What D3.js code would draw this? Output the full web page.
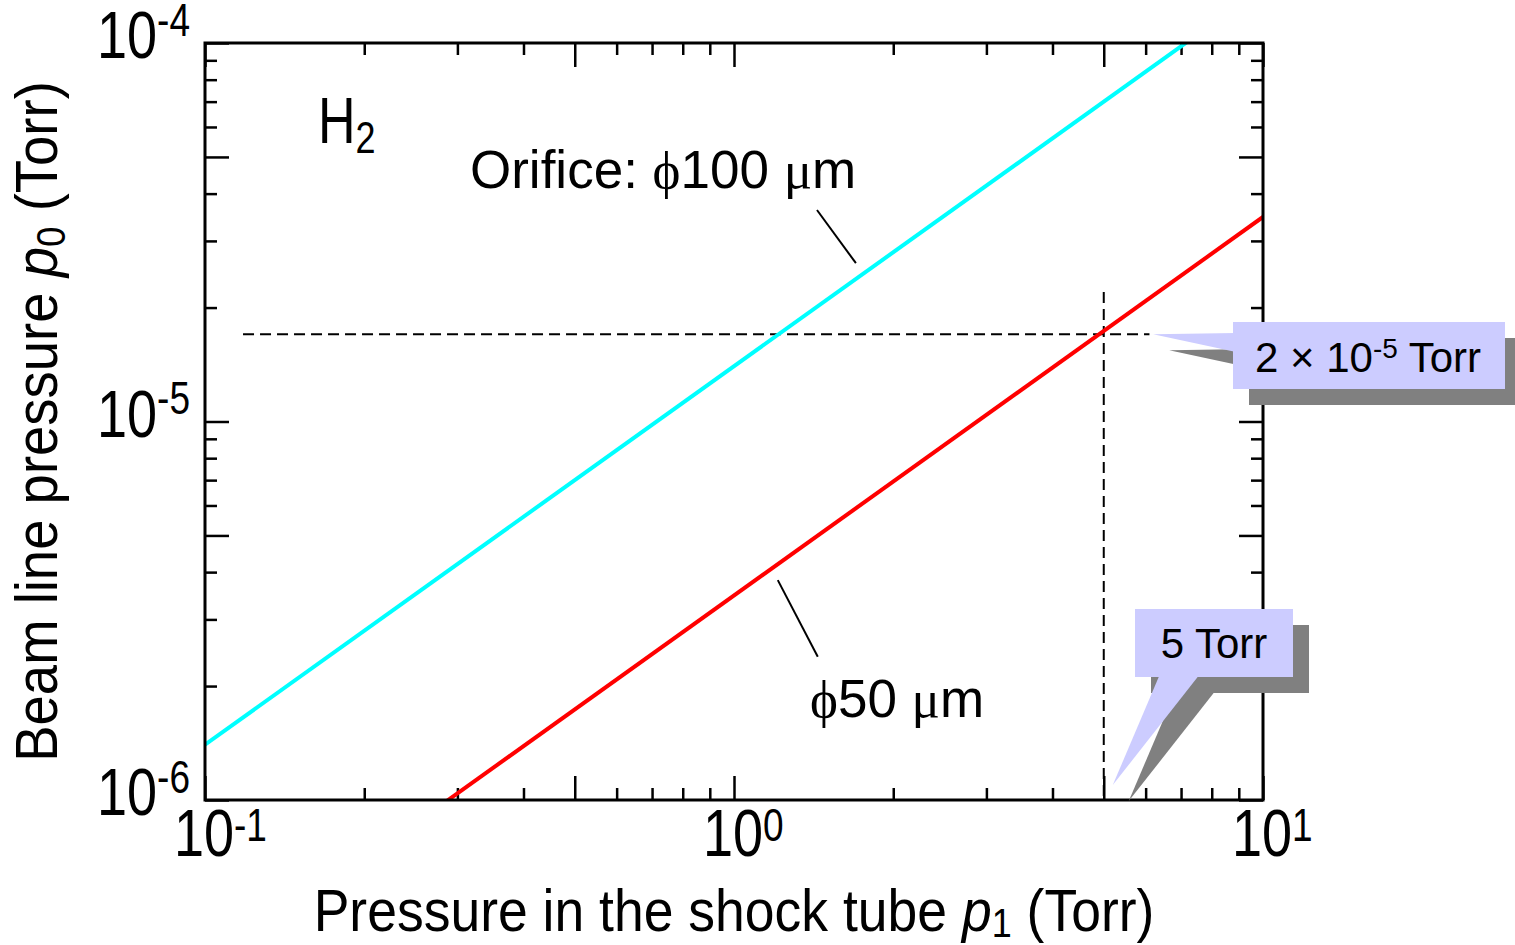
<!DOCTYPE html>
<html>
<head>
<meta charset="utf-8">
<script src="https://cdn.jsdelivr.net/npm/d3@7"></script>
<style>
  html, body { margin: 0; padding: 0; background: #fff; }
  svg { display: block; font-family: "Liberation Sans", Arial, sans-serif; }
</style>
</head>
<body>
<svg id="chart" width="1515" height="945"></svg>
<script>
// ---- data ----
const p1Range = [0.1, 10];                 // x domain, Torr
const p0Range = [1e-6, 1e-4];              // y domain, Torr
const p1Line = [0.1, 10];                  // x values for both curves
const p0Orifice100 = [1.4e-6, 1.4e-4];     // phi 100 um (cyan)
const p0Orifice50 = [3.47e-7, 3.47e-5];    // phi 50 um (red)
const xTickExps = [-1, 0, 1];
const yTickExps = [-6, -5, -4];
const refP0 = 1.7e-5;                      // horizontal dashed line
const refP0Span = [0.118, 6.1];
const refP1 = 5;                           // vertical dashed line
const refP1Top = 2.2e-5;

// Plot box
const plotL = 205, plotR = 1263, plotT = 43, plotB = 800;
const STRETCH = 1.23;  // graph text looks vertically stretched

const svg = d3.select('#chart');
const x = d3.scaleLog().domain(p1Range).range([plotL, plotR]);
const y = d3.scaleLog().domain(p0Range).range([plotB, plotT]);

// ticks: 1-9 in each decade
const allX = [], allY = [];
for (let e = -1; e < 1; e++) for (let m = 1; m < 10; m++) allX.push(m * Math.pow(10, e));
allX.push(10);
for (let e = -6; e < -4; e++) for (let m = 1; m < 10; m++) allY.push(m * Math.pow(10, e));
allY.push(1e-4);
const isLong = v => {
  const m = Math.round(v / Math.pow(10, Math.floor(Math.log10(v) + 1e-9)));
  return m === 1 || m === 5;
};

function addAxis(axisFn, scale, vals, size, transform) {
  const g = svg.append('g')
    .attr('transform', transform)
    .call(axisFn(scale).tickValues(vals).tickSize(-size).tickSizeOuter(0).tickFormat(''));
  g.select('.domain').remove();
  g.selectAll('line').attr('stroke', '#000').attr('stroke-width', 2.5);
}

[[true, 24], [false, 12]].forEach(([long, size]) => {
  const xv = allX.filter(v => isLong(v) === long);
  const yv = allY.filter(v => isLong(v) === long);
  addAxis(d3.axisBottom, x, xv, size, `translate(0,${plotB})`);
  addAxis(d3.axisTop, x, xv, size, `translate(0,${plotT})`);
  addAxis(d3.axisLeft, y, yv, size, `translate(${plotL},0)`);
  addAxis(d3.axisRight, y, yv, size, `translate(${plotR},0)`);
});

// Clip for curves
svg.append('clipPath').attr('id', 'plotClip')
  .append('rect').attr('x', plotL).attr('y', plotT)
  .attr('width', plotR - plotL).attr('height', plotB - plotT);

const line = d3.line().x(d => x(d[0])).y(d => y(d[1]));

// Dashed guide lines
const dashed = svg.append('g')
  .attr('stroke', '#000').attr('stroke-width', 2).attr('stroke-dasharray', '11,6').attr('fill', 'none');
dashed.append('path').attr('d', line(refP0Span.map(v => [v, refP0])));
dashed.append('path').attr('d', line([[refP1, refP1Top], [refP1, p0Range[0]]]));

// Curves
const curves = svg.append('g').attr('clip-path', 'url(#plotClip)').attr('fill', 'none').attr('stroke-width', 4);
curves.append('path').attr('stroke', '#00ffff')
  .attr('d', line(p1Line.map((v, i) => [v, p0Orifice100[i]])));
curves.append('path').attr('stroke', '#ff0000')
  .attr('d', line(p1Line.map((v, i) => [v, p0Orifice50[i]])));

// Frame
svg.append('rect')
  .attr('x', plotL).attr('y', plotT).attr('width', plotR - plotL).attr('height', plotB - plotT)
  .attr('fill', 'none').attr('stroke', '#000').attr('stroke-width', 3);

// Tick labels (10^n)
function powLabel(px, py, exp, anchor, rise) {
  const t = svg.append('text')
    .attr('transform', `translate(${px},${py}) scale(1,${STRETCH})`)
    .attr('text-anchor', anchor)
    .style('font-size', '54px');
  t.append('tspan').text('10');
  t.append('tspan').attr('dy', -rise).style('font-size', '37px').text(exp);
}
xTickExps.forEach(e => powLabel(x(Math.pow(10, e)) - 31, 856, String(e), 'start', 12.5));
yTickExps.forEach(e => powLabel(plotL - 15, y(Math.pow(10, e)) + 15, String(e), 'end', 18));

// Axis titles
const xt = svg.append('text')
  .attr('transform', `translate(${(plotL + plotR) / 2},931) scale(1,1.12)`)
  .attr('text-anchor', 'middle').style('font-size', '53.5px');
xt.append('tspan').text('Pressure in the shock tube ');
xt.append('tspan').style('font-style', 'italic').text('p');
xt.append('tspan').attr('dy', 5).style('font-size', '36px').text('1');
xt.append('tspan').attr('dy', -5).text(' (Torr)');

const yt = svg.append('text')
  .attr('transform', `translate(57,${(plotT + plotB) / 2}) rotate(-90) scale(1,1.1)`)
  .attr('text-anchor', 'middle').style('font-size', '54.5px');
yt.append('tspan').text('Beam line pressure ');
yt.append('tspan').style('font-style', 'italic').text('p');
yt.append('tspan').attr('dy', 7).style('font-size', '37px').text('0');
yt.append('tspan').attr('dy', -7).text(' (Torr)');

// H2 label
const h2 = svg.append('text')
  .attr('transform', `translate(318,143) scale(1,${STRETCH})`)
  .style('font-size', '52px');
h2.append('tspan').text('H');
h2.append('tspan').attr('dy', 8).style('font-size', '36px').text('2');

// Orifice annotations
const greek = '"Liberation Serif", "DejaVu Serif", serif';
const o1 = svg.append('text').attr('x', 470).attr('y', 188).style('font-size', '53px');
o1.append('tspan').text('Orifice: ');
o1.append('tspan').style('font-family', greek).text('ϕ');
o1.append('tspan').text('100 ');
o1.append('tspan').style('font-family', greek).text('μ');
o1.append('tspan').text('m');

const o2 = svg.append('text').attr('x', 810).attr('y', 717).style('font-size', '53px');
o2.append('tspan').style('font-family', greek).text('ϕ');
o2.append('tspan').text('50 ');
o2.append('tspan').style('font-family', greek).text('μ');
o2.append('tspan').text('m');

const leaders = [
  [[1.435, 3.62e-5], [1.70, 2.62e-5]],
  [[1.21, 3.81e-6], [1.44, 2.39e-6]]
];
leaders.forEach(l => svg.append('path').attr('d', line(l))
  .attr('stroke', '#000').attr('stroke-width', 2).attr('fill', 'none'));

// Callouts (box + pointer, with drop shadow)
function callout(box, tip, base, textFn) {
  const sh = 16;
  const poly = (dx, dy) => [[tip[0] + dx, tip[1] + dy], [base[0][0] + dx, base[0][1] + dy], [base[1][0] + dx, base[1][1] + dy]];
  const g = svg.append('g');
  g.append('rect').attr('x', box.x + sh).attr('y', box.y + sh).attr('width', box.w).attr('height', box.h).attr('fill', '#808080');
  g.append('polygon').attr('points', poly(sh, sh).join(' ')).attr('fill', '#808080');
  g.append('polygon').attr('points', poly(0, 0).join(' ')).attr('fill', '#ccccff');
  g.append('rect').attr('x', box.x).attr('y', box.y).attr('width', box.w).attr('height', box.h).attr('fill', '#ccccff');
  textFn(g);
}

const tip1 = [x(6.2), y(refP0)];
callout({ x: 1233, y: 322, w: 272, h: 67 }, tip1, [[1236, 333], [1236, 352]], g => {
  const t = g.append('text').attr('x', 1368).attr('y', 372).attr('text-anchor', 'middle').style('font-size', '42px');
  t.append('tspan').text('2 × 10');
  t.append('tspan').attr('dy', -14).style('font-size', '28px').text('-5');
  t.append('tspan').attr('dy', 14).text(' Torr');
});

const tip2 = [x(5.2), y(1.095e-6)];
callout({ x: 1135, y: 609, w: 158, h: 68 }, tip2, [[1160, 674], [1200, 674]], g => {
  g.append('text').attr('x', 1214).attr('y', 658).attr('text-anchor', 'middle')
    .style('font-size', '42px').text('5 Torr');
});
</script>
</body>
</html>
